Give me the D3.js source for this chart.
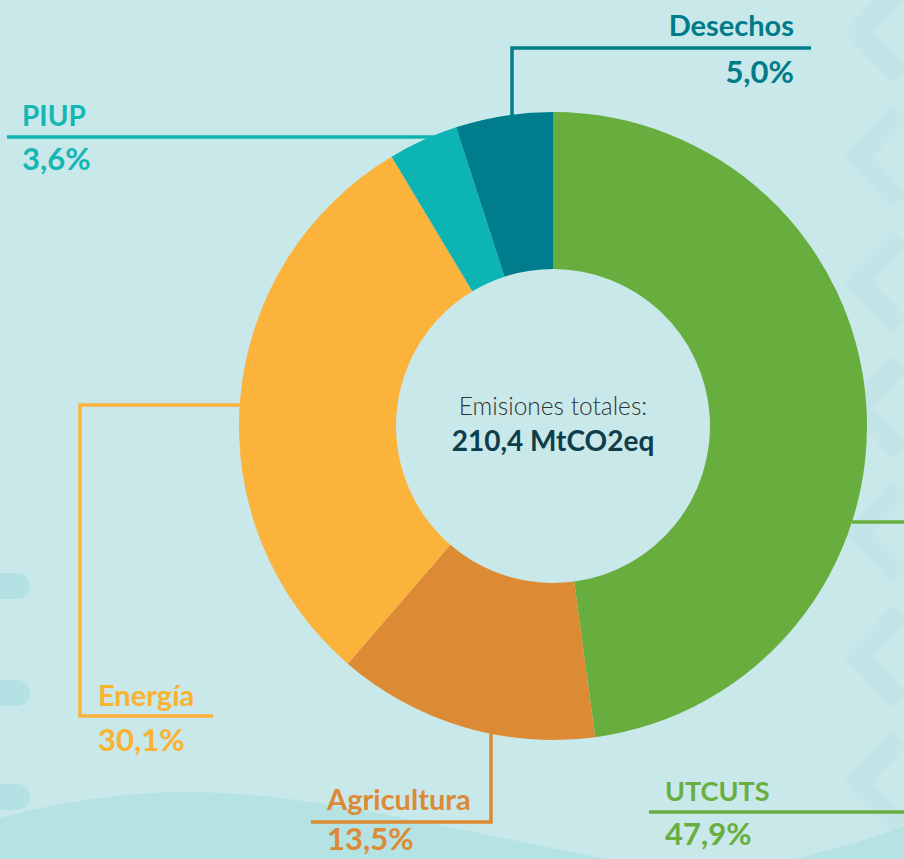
<!DOCTYPE html>
<html>
<head>
<meta charset="utf-8">
<script src="https://cdn.jsdelivr.net/npm/d3@7"></script>
<style>
  html, body { margin: 0; padding: 0; background: #c8e8e9; }
  svg { display: block; }
  text { font-family: Lato, "Open Sans", sans-serif; }
</style>
</head>
<body>
<svg id="chart" width="904" height="859"></svg>
<script>
// ---- data ----
const categories = ["UTCUTS", "Agricultura", "Energía", "PIUP", "Desechos"];
const shares = [47.9, 13.5, 30.1, 3.6, 5.0];
const shareLabels = ["47,9%", "13,5%", "30,1%", "3,6%", "5,0%"];
const sliceColors = ["#67ae3e", "#dc8a33", "#fbb33b", "#0cb5b4", "#007d8c"];
const textColors = ["#68ae40", "#dc8a35", "#fab232", "#14b6b6", "#007b8a"];
const centerTitle = "Emisiones totales:";
const centerValue = "210,4 MtCO2eq";

const W = 904, H = 859;
const cx = 553, cy = 426, rOuter = 314, rInner = 157;
const svg = d3.select("#chart");

// ---- background decoration ----
const deco = svg.append("g");
deco.append("rect").attr("width", W).attr("height", H).attr("fill", "#c8e8e9");
// chevrons on the right
d3.range(-1, 8).forEach(i => {
  const y = 32 + i * 125;
  deco.append("polyline")
    .attr("points", [[900, y - 44], [858, y], [900, y + 44]].map(p => p.join(",")).join(" "))
    .attr("fill", "none").attr("stroke", "#c4e5e7").attr("stroke-width", 21)
    .attr("stroke-linejoin", "miter");
});
// pills on the left
[573, 680, 784].forEach(y => {
  deco.append("rect").attr("x", -20).attr("y", y).attr("width", 50).attr("height", 26)
    .attr("rx", 13).attr("fill", "#b4e1e3");
});
// bottom waves
deco.append("path")
  .attr("d", "M0,818 C60,802 120,793 180,792 C250,792 300,800 360,810 C430,822 520,842 640,866 L0,866 Z")
  .attr("fill", "#b5e2e3");
deco.append("path")
  .attr("d", "M770,866 C820,852 870,840 904,826 L904,866 Z")
  .attr("fill", "#b5e2e3");

// ---- donut ----
const pie = d3.pie().sort(null).value(d => d)(shares);
const arc = d3.arc().innerRadius(rInner).outerRadius(rOuter);
const g = svg.append("g").attr("transform", `translate(${cx},${cy})`);
g.selectAll("path").data(pie).join("path")
  .attr("d", arc)
  .attr("fill", (d, i) => sliceColors[i]);

// ---- center text ----
g.append("text").attr("text-anchor", "middle").attr("y", -11)
  .attr("font-size", 24.5).attr("font-weight", 300).attr("fill", "#333")
  .text(centerTitle);
g.append("text").attr("text-anchor", "middle").attr("y", 25)
  .attr("font-size", 28).attr("font-weight", 700).attr("fill", "#0f3d4c")
  .text(centerValue);

// ---- leader lines & labels ----
const yOnCircle = (x, sign) => cy + sign * Math.sqrt(rOuter * rOuter - (x - cx) * (x - cx));
const xOnCircle = (y, sign) => cx + sign * Math.sqrt(rOuter * rOuter - (y - cy) * (y - cy));

const layout = [
  // UTCUTS
  { pts: () => [[xOnCircle(522, 1), 522], [910, 522]], extra: [[649, 812], [910, 812]],
    tx: 665, anchor: "start", ly: 801, py: 845, ls: 27 },
  // Agricultura
  { pts: () => [[491, yOnCircle(491, 1) - 4], [491, 822], [311, 822]],
    tx: 327, anchor: "start", ly: 810, py: 850, ls: 29 },
  // Energía
  { pts: () => [[xOnCircle(405, -1) + 4, 405], [80, 405], [80, 716], [213, 716]],
    tx: 98, anchor: "start", ly: 706, py: 751, ls: 29 },
  // PIUP
  { pts: () => [[7, 137], [xOnCircle(137, -1) + 4, 137]],
    tx: 22, anchor: "start", ly: 126, py: 170, ls: 28 },
  // Desechos
  { pts: () => [[512, yOnCircle(512, -1) + 4], [512, 48], [811, 48]],
    tx: 794, anchor: "end", ly: 36, py: 83, ls: 29 }
];
const lines = svg.append("g");
const labels = svg.append("g");
const lineGen = d3.line();
layout.forEach((L, i) => {
  lines.append("path").attr("d", lineGen(L.pts())).attr("fill", "none")
    .attr("stroke", sliceColors[i]).attr("stroke-width", 3.5);
  if (L.extra) lines.append("path").attr("d", lineGen(L.extra)).attr("fill", "none")
    .attr("stroke", sliceColors[i]).attr("stroke-width", 3.5);
  labels.append("text").attr("x", L.tx).attr("y", L.ly).attr("text-anchor", L.anchor)
    .attr("font-size", L.ls).attr("font-weight", 700).attr("fill", textColors[i])
    .text(categories[i]);
  labels.append("text").attr("x", L.tx).attr("y", L.py).attr("text-anchor", L.anchor)
    .attr("font-size", 31).attr("font-weight", 700).attr("fill", textColors[i])
    .text(shareLabels[i]);
});
// redraw donut on top of leader-line ends
svg.node().appendChild(g.node());
</script>
</body>
</html>
